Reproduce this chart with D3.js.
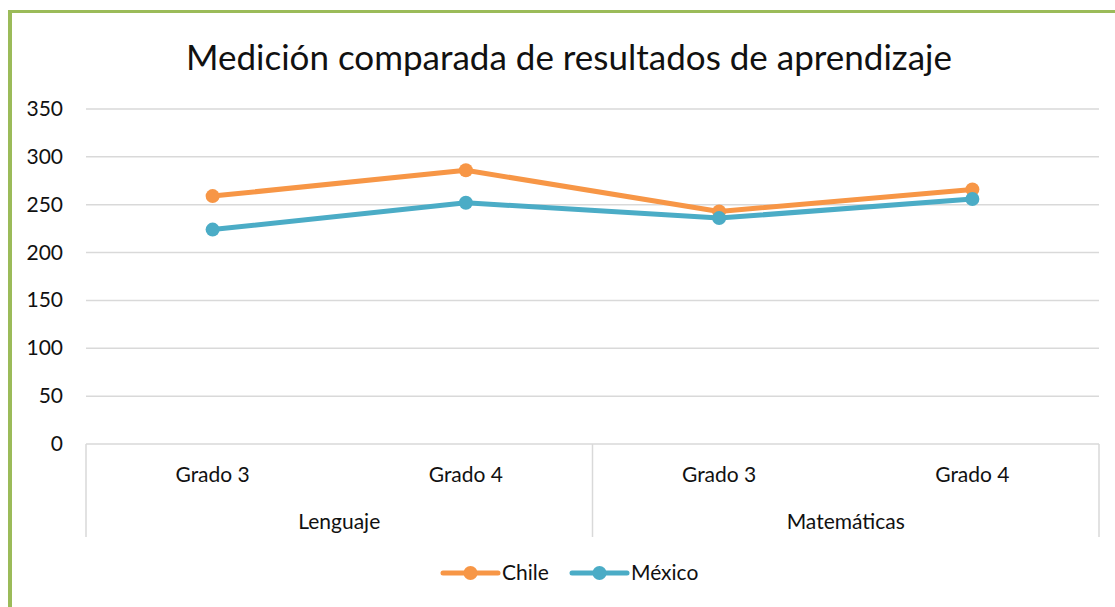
<!DOCTYPE html>
<html>
<head>
<meta charset="utf-8">
<script src="https://cdn.jsdelivr.net/npm/d3@7"></script>
<style>
  html, body { margin: 0; padding: 0; background: #fff; }
  svg { display: block; font-family: "Lato", "Open Sans", sans-serif; }
</style>
</head>
<body>
<script>
// data
const groups = ["Lenguaje", "Matemáticas"];
const grades = ["Grado 3", "Grado 4", "Grado 3", "Grado 4"];
const chile = [259, 286, 243, 266];
const mexico = [224, 252, 236, 256];
const yTicks = [0, 50, 100, 150, 200, 250, 300, 350];

const width = 1115, height = 607;
const margin = {left: 86, right: 16, top: 109, bottom: 163};

const svg = d3.select("body").append("svg")
    .attr("width", width)
    .attr("height", height);

// green frame (left + top)
svg.append("rect").attr("x", 8).attr("y", 10).attr("width", width).attr("height", 3).attr("fill", "#9BBB59");
svg.append("rect").attr("x", 8).attr("y", 10).attr("width", 4).attr("height", height).attr("fill", "#9BBB59");

svg.append("text")
    .attr("x", 569).attr("y", 70)
    .attr("text-anchor", "middle")
    .style("font-size", "35px")
    .style("fill", "#111")
    .text("Medición comparada de resultados de aprendizaje");

const x = d3.scaleBand()
    .domain(d3.range(grades.length))
    .range([margin.left, width - margin.right]);

const y = d3.scaleLinear()
    .domain([0, 350])
    .range([height - margin.bottom, margin.top]);

const fs = "21px";

// gridlines
svg.append("g")
    .selectAll("line")
    .data(yTicks)
    .join("line")
    .attr("x1", margin.left).attr("x2", width - margin.right)
    .attr("y1", d => y(d)).attr("y2", d => y(d))
    .attr("stroke", "#d9d9d9").attr("stroke-width", 1.5);

svg.append("g")
    .selectAll("text")
    .data(yTicks)
    .join("text")
    .attr("x", 63).attr("y", d => y(d) + 7)
    .attr("text-anchor", "end")
    .style("font-size", fs)
    .style("fill", "#111")
    .text(d => d);

// category axis with group separators
const sepTop = y(0), sepBottom = 537;
const seps = [0, 2, 4];
svg.append("g")
    .selectAll("line")
    .data(seps)
    .join("line")
    .attr("x1", d => d < grades.length ? x(d) : x.range()[1])
    .attr("x2", d => d < grades.length ? x(d) : x.range()[1])
    .attr("y1", sepTop).attr("y2", sepBottom)
    .attr("stroke", "#d9d9d9").attr("stroke-width", 1.5);

svg.append("g")
    .selectAll("text")
    .data(grades)
    .join("text")
    .attr("x", (d, i) => x(i) + x.bandwidth() / 2)
    .attr("y", 482)
    .attr("text-anchor", "middle")
    .style("font-size", fs)
    .style("fill", "#111")
    .text(d => d);

svg.append("g")
    .selectAll("text")
    .data(groups)
    .join("text")
    .attr("x", (d, i) => x(i * 2) + x.bandwidth())
    .attr("y", 529)
    .attr("text-anchor", "middle")
    .style("font-size", fs)
    .style("fill", "#111")
    .text(d => d);

const series = [
    {name: "Chile", values: chile, color: "#F79646"},
    {name: "México", values: mexico, color: "#4BACC6"}
];

const line = d3.line()
    .x((d, i) => x(i) + x.bandwidth() / 2)
    .y(d => y(d));

series.forEach(s => {
    svg.append("path")
        .datum(s.values)
        .attr("d", line)
        .attr("fill", "none")
        .attr("stroke", s.color)
        .attr("stroke-width", 5)
        .attr("stroke-linejoin", "round");
    svg.append("g")
        .selectAll("circle")
        .data(s.values)
        .join("circle")
        .attr("cx", (d, i) => x(i) + x.bandwidth() / 2)
        .attr("cy", d => y(d))
        .attr("r", 7)
        .attr("fill", s.color);
});

// legend
const legendX = [443, 572];
series.forEach((s, i) => {
    const g = svg.append("g").attr("transform", `translate(${legendX[i]},573)`);
    g.append("line").attr("x1", 0).attr("x2", 55).attr("y1", 0).attr("y2", 0)
        .attr("stroke", s.color).attr("stroke-width", 5).attr("stroke-linecap", "round");
    g.append("circle").attr("cx", 27.5).attr("cy", 0).attr("r", 7).attr("fill", s.color);
    g.append("text").attr("x", 59).attr("y", 7)
        .style("font-size", fs).style("fill", "#111")
        .text(s.name);
});
</script>
</body>
</html>
